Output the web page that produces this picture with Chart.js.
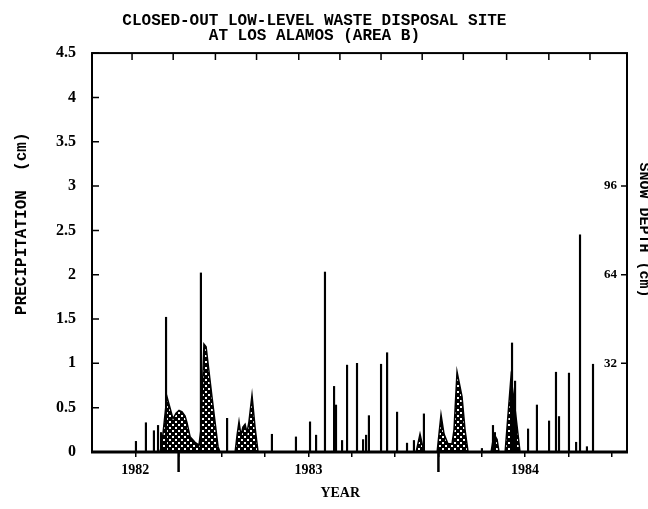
<!DOCTYPE html>
<html>
<head>
<meta charset="utf-8">
<script src="https://cdn.jsdelivr.net/npm/chart.js@4.4.1/dist/chart.umd.min.js"></script>
<style>
  html, body { margin: 0; padding: 0; background: #fff; }
  canvas { display: block; }
</style>
</head>
<body>
<canvas id="myChart" width="648" height="509"></canvas>
<script>
'use strict';

// x is in months from the left edge of the plot
const precipMonth = [2.03, 2.49, 2.86, 3.05, 3.19, 3.42, 5.03, 6.24, 8.31, 9.42,
  10.07, 10.35, 10.76, 11.18, 11.27, 11.55, 11.78, 12.24, 12.52, 12.66,
  12.79, 13.35, 13.63, 14.09, 14.55, 14.87, 15.33, 18.01, 18.52, 18.61,
  19.40, 19.54, 20.14, 20.55, 21.11, 21.43, 21.57, 22.03, 22.36, 22.54,
  22.86, 23.14];
const precipCm = [0.12, 0.33, 0.24, 0.30, 0.22, 1.52, 2.02, 0.38, 0.20, 0.17,
  0.34, 0.19, 2.03, 0.74, 0.53, 0.13, 0.98, 1.00, 0.14, 0.19,
  0.41, 0.99, 1.12, 0.45, 0.10, 0.13, 0.43, 0.04, 0.30, 0.22,
  1.23, 0.80, 0.26, 0.53, 0.35, 0.90, 0.40, 0.89, 0.11, 2.45,
  0.06, 0.99];

const snowMonth = [3.14, 3.23, 3.46, 3.74, 3.88, 4.02, 4.16, 4.30, 4.39, 4.53, 4.76, 4.94,
  5.03, 5.17, 5.27, 5.54, 5.82, 5.91,
  6.61, 6.70, 6.79, 6.88, 6.97, 7.07, 7.16, 7.25, 7.39, 7.53, 7.67,
  14.97, 15.15, 15.29, 15.38,
  15.94, 16.12, 16.26, 16.44, 16.63, 16.72, 16.86, 17.09, 17.23, 17.37,
  18.43, 18.57, 18.71, 18.80,
  19.08, 19.21, 19.35, 19.49, 19.63, 19.77];
const snowDepth = [0, 3, 20, 12, 14, 15, 14.5, 13, 10.5, 5.5, 3.5, 2.5,
  8, 39, 38, 20, 2, 0,
  0, 6, 11, 6, 9, 10, 7, 11, 20.5, 9, 0,
  0, 6.5, 1.5, 0,
  0, 13.5, 6.5, 3, 3, 8, 29, 20, 8, 0,
  0, 6.5, 4.5, 0,
  0, 13, 27, 19, 9.5, 0];

const yearMonth = [2, 10, 20];
const yearLabel = ['1982', '1983', '1984'];
const bottomTickMonth = [2, 4, 6, 8, 10, 12, 14, 16, 18, 20, 22, 24];
const longTickMonth = [4, 16];
const topTickMonth = [1.85, 3.75, 5.7, 7.6, 9.55, 11.45, 13.35, 15.25, 17.15, 19.15, 21.1, 23.0];
const snowTicks = [32, 64, 96];

function hatch() {
  const c = document.createElement('canvas');
  c.width = 6; c.height = 6;
  const g = c.getContext('2d');
  g.fillStyle = '#000';
  g.fillRect(0, 0, 6, 6);
  g.fillStyle = '#fff';
  g.fillRect(1, 1, 2, 2);
  g.fillRect(4, 4, 2, 2);
  return g.createPattern(c, 'repeat');
}

const frameTicks = {
  id: 'frameTicks',
  afterDatasetsDraw(chart) {
    const {ctx, chartArea: a, scales: {x, y, y1}} = chart;
    ctx.save();
    ctx.strokeStyle = '#000';
    ctx.lineWidth = 1.5;
    ctx.beginPath();
    y.ticks.forEach(t => {
      const py = y.getPixelForValue(t.value);
      ctx.moveTo(a.left, py); ctx.lineTo(a.left + 7, py);
    });
    topTickMonth.forEach(m => {
      const px = x.getPixelForValue(m);
      ctx.moveTo(px, a.top); ctx.lineTo(px, a.top + 7);
    });
    snowTicks.forEach(v => {
      const py = y1.getPixelForValue(v);
      ctx.moveTo(a.right, py); ctx.lineTo(a.right - 6, py);
    });
    ctx.stroke();

    ctx.lineWidth = 2.5;
    ctx.beginPath();
    longTickMonth.forEach(m => {
      const px = x.getPixelForValue(m);
      ctx.moveTo(px, a.bottom); ctx.lineTo(px, a.bottom + 20);
    });
    ctx.stroke();

    ctx.lineWidth = 2;
    ctx.strokeRect(a.left, a.top, a.right - a.left, a.bottom - a.top);
    ctx.lineWidth = 3;
    ctx.beginPath();
    ctx.moveTo(a.left - 1, a.bottom); ctx.lineTo(a.right + 1, a.bottom);
    ctx.stroke();
    ctx.restore();
  }
};

Chart.defaults.color = '#000';

const ctx = document.getElementById('myChart');
let chartObj = {
  type: 'bar',
  data: {
    datasets: [{
      type: 'bar',
      label: 'Precipitation',
      data: precipMonth.map((m, i) => ({x: m, y: precipCm[i]})),
      backgroundColor: '#000',
      barThickness: 1.5,
      xAxisID: 'x',
      yAxisID: 'y',
      order: 0
    },
    {
      type: 'line',
      label: 'Snow depth',
      data: snowMonth.map((m, i) => ({x: m, y: snowDepth[i]})),
      borderColor: '#000',
      borderWidth: 1.5,
      backgroundColor: hatch(),
      fill: 'origin',
      pointRadius: 0,
      tension: 0,
      xAxisID: 'x',
      yAxisID: 'y1',
      order: 1
    }]
  },
  options: {
    responsive: false,
    animation: false,
    layout: { padding: 0 },
    plugins: {
      legend: { display: false },
      tooltip: { enabled: false },
      title: {
        display: true,
        text: ['CLOSED-OUT LOW-LEVEL WASTE DISPOSAL SITE  ', 'AT LOS ALAMOS (AREA B)  '],
        font: { family: 'Liberation Mono', size: 16, weight: 'bold', lineHeight: 0.94 },
        padding: { top: 13.5, bottom: 9.5 }
      }
    },
    scales: {
      x: {
        type: 'linear',
        position: 'bottom',
        min: 0,
        max: 24.71,
        offset: false,
        afterBuildTicks: (s) => { s.ticks = bottomTickMonth.map(v => ({value: v})); },
        afterFit: (s) => { s.height = 57; },
        ticks: {
          autoSkip: false,
          maxRotation: 0,
          padding: 5,
          font: { family: 'Liberation Serif', size: 14, weight: 'bold' },
          callback: (value) => {
            const i = yearMonth.indexOf(value);
            return i >= 0 ? yearLabel[i] : '';
          }
        },
        grid: { offset: false, drawOnChartArea: false, tickLength: 5, color: '#000', lineWidth: 1.5 },
        border: { display: false },
        title: {
          display: true,
          text: 'YEAR' + '           ',
          font: { family: 'Liberation Serif', size: 14, weight: 'bold' },
          padding: { top: 0, bottom: 7.6 }
        }
      },
      y: {
        position: 'left',
        min: 0,
        max: 4.5,
        afterFit: (s) => { s.width = 92; },
        ticks: {
          stepSize: 0.5,
          autoSkip: false,
          padding: 8,
          font: { family: 'Liberation Serif', size: 16, weight: 'bold' },
          callback: (value) => String(value)
        },
        grid: { display: false },
        border: { display: false },
        title: {
          display: true,
          text: '      PRECIPITATION  (cm)',
          font: { family: 'Liberation Mono', size: 16, weight: 'bold' },
          padding: { top: 12, bottom: 0 }
        }
      },
      y1: {
        position: 'right',
        min: 0,
        max: 144,
        afterBuildTicks: (s) => { s.ticks = snowTicks.map(v => ({value: v})); },
        afterFit: (s) => { s.width = 21; },
        ticks: {
          mirror: true,
          padding: -10,
          font: { family: 'Liberation Serif', size: 13, weight: 'bold' }
        },
        grid: { display: false },
        border: { display: false },
        title: {
          display: true,
          text: 'SNOW DEPTH (cm)     ',
          font: { family: 'Liberation Mono', size: 15, weight: 'bold', lineHeight: 0.6 },
          padding: { top: 0, bottom: 0 }
        }
      }
    }
  },
  plugins: [frameTicks]
};

new Chart(ctx, chartObj);
</script>
</body>
</html>
